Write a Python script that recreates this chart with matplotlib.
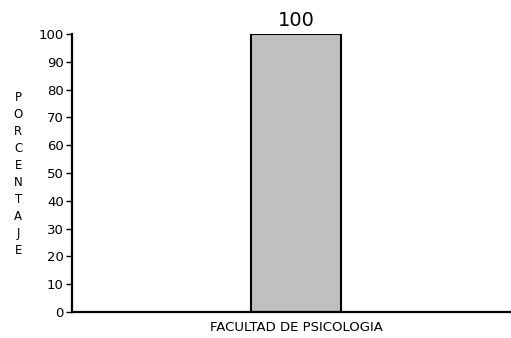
import matplotlib
matplotlib.use("Agg")
import matplotlib.pyplot as plt

plt.rcParams['font.family'] = ['DejaVu Sans']

categorias = ["FACULTAD DE PSICOLOGIA"]
porcentajes = [100]
ticks_y = list(range(0, 101, 10))

fig = plt.figure(figsize=(5.11, 3.38), dpi=100)
ax = fig.add_axes([0.141, 0.077, 0.857, 0.822])

x = range(len(categorias))
ax.bar(x, porcentajes, width=1.0, color='#c0c0c0',
       edgecolor='black', linewidth=1.5, zorder=2)
for i, v in enumerate(porcentajes):
    ax.text(i, v + 1.5, str(v), ha='center', va='bottom', fontsize=14)

ax.set_xlim(-2.49, 2.38)
ax.set_ylim(0, 100)
ax.set_yticks(ticks_y)
ax.set_xticks(list(x), categorias)
ax.tick_params(axis='y', labelsize=9.5, length=4, width=1, pad=2)
ax.tick_params(axis='x', labelsize=9.5, length=0, pad=6.5)
for s in ['top', 'right']:
    ax.spines[s].set_visible(False)
ax.spines['left'].set_linewidth(1.6)
ax.spines['bottom'].set_linewidth(1.6)

fig.text(0.036, 0.73, "\n".join("PORCENTAJE"), ha='center', va='top',
         fontsize=8.5, linespacing=1.4)

fig.savefig("out.png", dpi=100)
